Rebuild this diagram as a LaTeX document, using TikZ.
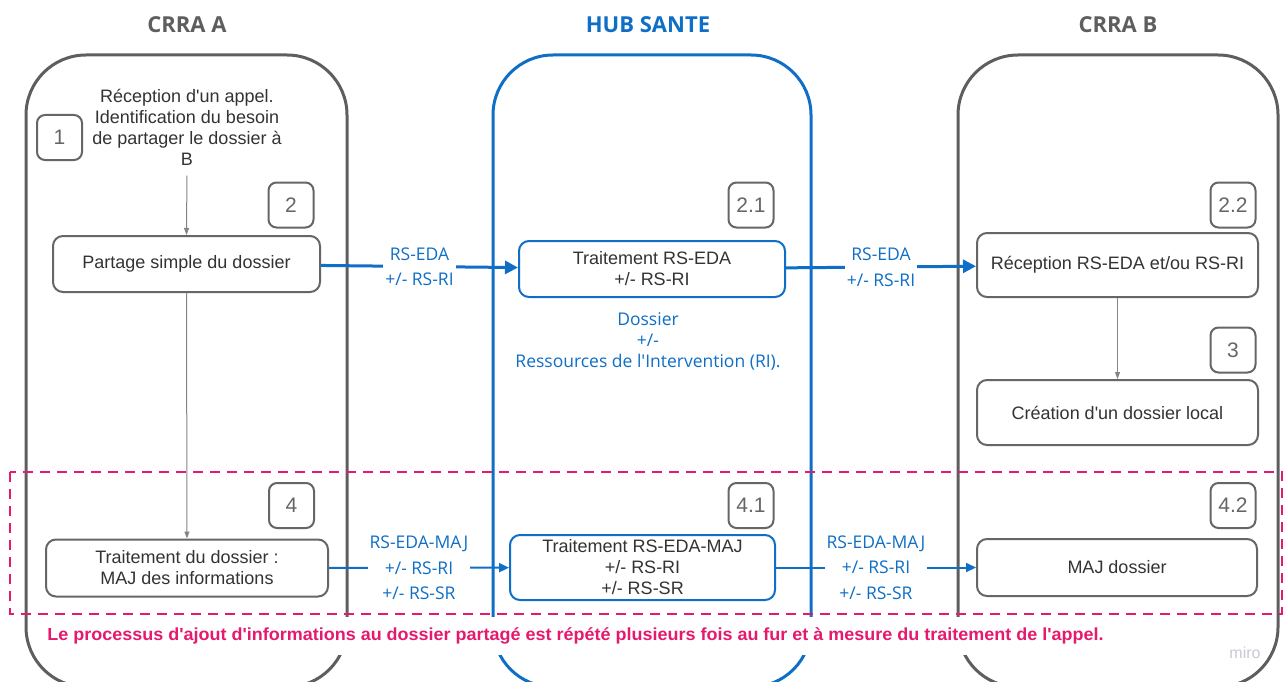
\documentclass[tikz,border=0pt]{standalone}
\usepackage{fontspec}
\setmainfont{Liberation Sans}[Ligatures=TeXOff]
\newfontfamily\opensans{Open Sans}[Ligatures=TeXOff]
\usetikzlibrary{arrows.meta}
\definecolor{lanegray}{HTML}{5E5E5E}
\definecolor{boxgray}{HTML}{666666}
\definecolor{txtgray}{HTML}{333333}
\definecolor{hubblue}{HTML}{0F6FC6}
\definecolor{repink}{HTML}{E5196E}
\definecolor{mirogray}{HTML}{C8C8D6}
\tikzset{
  lane/.style={draw=lanegray,line width=3pt,rounded corners=60pt},
  hublane/.style={lane,draw=hubblue},
  badge/.style={draw=boxgray,line width=2pt,rounded corners=8pt,minimum width=45pt,minimum height=45pt,
    text=boxgray,font=\fontsize{21}{24}\selectfont,inner sep=0pt},
  stepbox/.style={draw=boxgray,line width=2pt,rounded corners=10pt,text=txtgray,align=center,
    font=\fontsize{18}{21}\selectfont,inner sep=0pt},
  hubbox/.style={stepbox,draw=hubblue},
  lanetitle/.style={font=\opensans\bfseries\fontsize{22}{26}\selectfont},
  msg/.style={fill=white,text=hubblue,align=center,font=\opensans\fontsize{17.5}{25.5}\selectfont,inner sep=2pt},
  flow/.style={draw=hubblue,line width=3pt,-{Triangle[length=13pt,width=13pt]}},
  flowmaj/.style={draw=hubblue,line width=2pt,-{Triangle[length=10pt,width=9pt]}},
  seq/.style={draw=boxgray!80,line width=1pt,-{Triangle[length=7pt,width=5pt]}},
}
\begin{document}
\begin{tikzpicture}[x=1pt,y=-1pt]
    \useasboundingbox[fill=white] (0,0) rectangle (1284,682);
    \clip (0,0) rectangle (1284,682);
    % lanes
    \draw[lane] (26,55) rectangle (347,687);
    \draw[hublane] (493,55) rectangle (811,687);
    \draw[lane] (958,55) rectangle (1278,687);
    \node[lanetitle,text=lanegray] (titleA) at (187,25) {CRRA A};
    \node[lanetitle,text=hubblue] (titleHub) at (648,25) {HUB SANTE};
    \node[lanetitle,text=lanegray] (titleB) at (1118,25) {CRRA B};
    % repeated part
    \draw[repink,line width=2.5pt,dash pattern=on 10pt off 7pt] (10,472) rectangle (1282,614);
    \node[fill=white,text=repink,font=\bfseries\fontsize{17.5}{20}\selectfont,minimum height=38pt,inner xsep=8pt,inner ysep=0pt]
      (repeat) at (575.5,636) {\resizebox{1056pt}{\height}{Le processus d'ajout d'informations au dossier partagé est répété plusieurs fois au fur et à mesure du traitement de l'appel.}};
    \node[text=mirogray,font=\fontsize{16}{18}\selectfont] (miro) at (1245,653) {miro};
    % CRRA A
    \node[badge] (s1) at (59.5,137.5) {1};
    \node[text=txtgray,align=center,font=\fontsize{18}{21}\selectfont] (intro) at (187,127) {Réception d'un appel.\\Identification du besoin\\de partager le dossier à\\B};
    \node[badge] (s2) at (291,205) {2};
    \node[stepbox,minimum width=267pt,minimum height=56pt] (partage) at (186.5,264) {Partage simple du dossier};
    \node[badge] (s4) at (291.5,505.5) {4};
    \node[stepbox,minimum width=282pt,minimum height=57pt] (traitA) at (187,568) {Traitement du dossier :\\MAJ des informations};
    % HUB SANTE
    \node[badge] (s21) at (751,205) {2.1};
    \node[hubbox,minimum width=266pt,minimum height=56pt] (traitHub) at (652,269) {Traitement RS-EDA\\+/- RS-RI};
    \node[msg,fill=none,font=\opensans\fontsize{17.5}{21}\selectfont] (dossierRI) at (648,341) {Dossier\\+/-\\Ressources de l'Intervention (RI).};
    \node[badge] (s41) at (751,505.5) {4.1};
    \node[hubbox,minimum width=265pt,minimum height=65pt] (traitHubMaj) at (642.5,567.5) {Traitement RS-EDA-MAJ\\+/- RS-RI\\+/- RS-SR};
    % CRRA B
    \node[badge] (s22) at (1233,205) {2.2};
    \node[stepbox,minimum width=281pt,minimum height=64pt] (recep) at (1117.5,265) {Réception RS-EDA et/ou RS-RI};
    \node[badge] (s3) at (1233,350) {3};
    \node[stepbox,minimum width=281pt,minimum height=65pt] (creation) at (1117.5,412.5) {Création d'un dossier local};
    \node[badge] (s42) at (1233,505.5) {4.2};
    \node[stepbox,minimum width=280pt,minimum height=57pt] (majB) at (1117,567.5) {MAJ dossier};
    % Edges
    \draw[seq,shorten <=7pt] (intro.south) -- (partage.north);
    \draw[seq] (partage) -- (traitA);
    \draw[seq] (recep) -- (creation);
    \draw[flow] (partage) -- node[msg] {RS-EDA\\+/- RS-RI} (traitHub);
    \draw[flow] (traitHub) -- node[msg] {RS-EDA\\+/- RS-RI} (recep);
    \draw[flowmaj] (traitA) -- node[msg] {RS-EDA-MAJ\\+/- RS-RI\\+/- RS-SR} (traitHubMaj);
    \draw[flowmaj] (traitHubMaj) -- node[msg] {RS-EDA-MAJ\\+/- RS-RI\\+/- RS-SR} (majB);
\end{tikzpicture}
\end{document}
